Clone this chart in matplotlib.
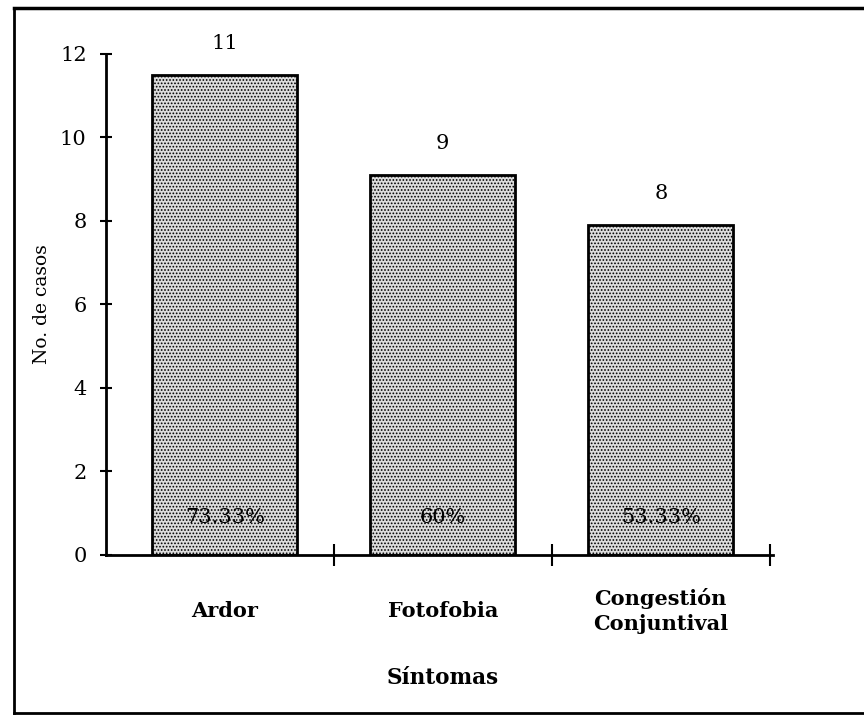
import matplotlib.pyplot as plt
from matplotlib.lines import Line2D
import numpy as np

# data
sintomas = ['Ardor', 'Fotofobia', 'Congestión\nConjuntival']
alturas = [11.5, 9.1, 7.9]          # bar heights as drawn
casos = ['11', '9', '8']            # printed counts
porcentajes = ['73.33%', '60%', '53.33%']

plt.rcParams['font.family'] = ['DejaVu Serif']
plt.rcParams['hatch.color'] = '#6a6a6a'
plt.rcParams['hatch.linewidth'] = 0.8

fig = plt.figure(figsize=(8.64, 7.19), dpi=100)
ax = fig.add_axes([0.1227, 0.2281, 0.7720, 0.6968])

x = np.arange(len(sintomas))
ax.bar(x, alturas, width=0.665, color='#dcdcdc', edgecolor='black',
       linewidth=2, hatch='.....', zorder=2)

for xi, h, c, p in zip(x, alturas, casos, porcentajes):
    ax.text(xi, h + 0.75, c, ha='center', va='center', fontsize=15)
    ax.text(xi, 0.9, p, ha='center', va='center', fontsize=15, zorder=3)

ax.set_xlim(-0.545, 2.515)
ax.set_ylim(0, 12)
ax.set_yticks(range(0, 13, 2))
ax.set_xticks([0.5, 1.5, 2.5])
ax.set_xticklabels([])
ax.tick_params(axis='y', direction='inout', length=8, width=1.5,
               labelsize=15, pad=10)
ax.tick_params(axis='x', direction='inout', length=16, width=1.5)

for s in ['top', 'right']:
    ax.spines[s].set_visible(False)
for s in ['left', 'bottom']:
    ax.spines[s].set_linewidth(2)

ax.set_ylabel('No. de casos', fontsize=13.5, labelpad=6)

# category names below the axis
for xi, name in zip(x, sintomas):
    ax.text(xi, -1.35, name, ha='center', va='center', fontsize=15,
            fontweight='bold', linespacing=1.3)
ax.text(1, -2.95, 'Síntomas', ha='center', va='center', fontsize=15.5,
        fontweight='bold')

# scanned frame (right side is cut off)
fig.add_artist(Line2D([14/864, 1.0], [1 - 8/719, 1 - 8/719],
                      transform=fig.transFigure, color='black', lw=2.5))
fig.add_artist(Line2D([14/864, 14/864], [1 - 8/719, 1 - 713/719],
                      transform=fig.transFigure, color='black', lw=2))
fig.add_artist(Line2D([14/864, 1.0], [1 - 713/719, 1 - 713/719],
                      transform=fig.transFigure, color='black', lw=2))

fig.savefig('out.png', dpi=100)
